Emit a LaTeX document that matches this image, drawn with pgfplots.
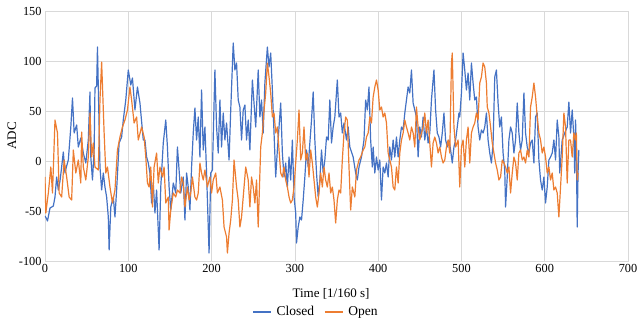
\documentclass[border=0pt]{standalone}
\usepackage{fontspec}
\setmainfont{Liberation Serif}
\usepackage{pgfplots}
\pgfplotsset{compat=1.18}
\definecolor{cblue}{HTML}{4472C4}
\definecolor{corange}{HTML}{ED7D31}
\definecolor{gridc}{HTML}{D9D9D9}
\begin{document}
\begin{tikzpicture}
\begin{axis}[
 scale only axis, width=583pt, height=250pt,
 xmin=0,xmax=700,ymin=-100,ymax=150,
 xtick={0,100,...,700}, ytick={-100,-50,...,150},
 grid=major, grid style={gridc, line width=0.6pt},
 axis line style={gridc, line width=0.6pt},
 major tick length=0pt,
 tick label style={font=\fontsize{12.3}{14}\selectfont},
 /pgf/number format/assume math mode=true,
 xlabel={Time [1/160 s]}, ylabel={ADC},
 label style={font=\fontsize{13}{15}\selectfont},
 xlabel style={at={(axis description cs:0.4906,-0.132)}, anchor=center},
 ylabel style={at={(axis description cs:-0.057,0.5)}, anchor=center},
 legend style={at={(axis description cs:0.465,-0.204)}, anchor=center, draw=none, legend columns=-1,
   font=\fontsize{13.5}{15}\selectfont,
   /tikz/every odd column/.append style={column sep=3pt},
   /tikz/every even column/.append style={column sep=8pt}},
 legend image code/.code={\draw[#1] (0pt,0pt) -- (18pt,0pt);},
 every axis plot/.append style={line width=1.2pt, line join=round},
]
\addplot[cblue] coordinates {
(0,-55)(2,-58)(3,-60)(6,-47)(10,-45)(12,-36)(14,-16)(16,-29)(18,-20)(20,-6)(22,9)(24,-12)(26,-5)(28,1)(31,34)(33,63)(35,28)(38,36)(40,14)(43,23)(46,8)(49,-2)(52,21)(54,69)(55,4)(57,-19)(59,11)(60,73)(62,75)(63,114)(64,74)(66,-6)(68,-29)(70,-12)(72,-26)(74,-36)(76,-56)(77,-89)(79,-46)(82,-36)(84,-56)(86,-29)(89,18)(92,24)(94,41)(97,61)(100,91)(103,76)(105,83)(108,51)(111,74)(114,58)(118,21)(120,21)(122,4)(124,-2)(126,-12)(128,-42)(130,-22)(132,-52)(134,-29)(137,-89)(139,-26)(142,18)(145,41)(147,14)(149,-26)(151,-49)(154,-22)(157,-32)(159,14)(161,-9)(163,-32)(166,-16)(168,-59)(170,-12)(172,-26)(174,-49)(176,-6)(178,28)(180,53)(182,21)(184,44)(186,4)(188,71)(190,11)(192,34)(194,-12)(197,-92)(199,-12)(201,-9)(204,91)(206,34)(208,8)(210,61)(212,14)(214,48)(216,21)(218,38)(221,1)(223,51)(226,118)(228,91)(230,98)(232,61)(234,54)(236,21)(238,51)(240,56)(242,21)(244,41)(246,11)(249,81)(253,34)(256,91)(258,44)(260,61)(262,28)(264,78)(267,114)(269,94)(271,108)(273,71)(275,28)(277,-16)(279,11)(281,34)(283,58)(285,8)(287,-16)(289,-2)(291,-26)(293,4)(295,-19)(297,21)(299,-36)(301,-52)(302,-82)(304,-66)(306,-56)(308,-59)(310,-39)(312,-16)(314,11)(316,-6)(318,18)(320,41)(322,69)(324,21)(326,-12)(328,-36)(330,-19)(332,11)(334,-12)(336,1)(338,24)(340,21)(342,61)(344,18)(346,34)(348,44)(351,81)(353,44)(355,48)(357,28)(359,38)(362,21)(364,34)(366,14)(370,4)(373,-12)(375,-19)(377,-6)(380,4)(383,21)(385,61)(387,51)(389,74)(391,21)(393,-6)(394,14)(396,-12)(398,4)(400,-9)(402,1)(404,-39)(406,-6)(408,-12)(410,-2)(412,-16)(414,14)(416,1)(418,21)(420,4)(422,24)(424,4)(426,21)(428,34)(430,31)(432,48)(434,61)(436,74)(438,68)(440,91)(442,58)(444,51)(446,44)(448,4)(450,34)(452,24)(454,44)(456,21)(458,34)(460,18)(462,28)(464,61)(466,81)(467,91)(469,51)(471,28)(473,24)(475,14)(477,28)(479,48)(481,21)(483,14)(485,21)(487,11)(489,-2)(491,14)(493,21)(495,34)(497,48)(498,44)(500,68)(502,108)(504,91)(506,71)(508,88)(510,61)(512,98)(514,78)(516,61)(518,64)(520,34)(522,21)(524,31)(526,28)(528,34)(530,48)(532,21)(534,8)(536,-2)(538,18)(540,84)(542,91)(544,58)(546,34)(548,44)(550,8)(552,-9)(553,-46)(555,-16)(557,21)(559,34)(561,28)(563,8)(565,21)(567,58)(569,28)(571,11)(573,21)(575,68)(577,28)(579,14)(581,8)(583,18)(585,21)(587,-2)(589,44)(591,48)(593,1)(595,-19)(597,-29)(599,-16)(601,-42)(603,-26)(605,1)(607,4)(609,8)(611,21)(613,1)(615,41)(617,24)(618,-12)(621,21)(624,28)(627,34)(629,59)(631,28)(633,51)(635,24)(636,-12)(637,41)(638,11)(639,-66)(640,-12)(641,11)
};
\addlegendentry{Closed}
\addplot[corange] coordinates {
(0,-16)(1,-52)(4,-32)(7,-6)(9,-32)(12,41)(15,28)(17,-32)(20,-36)(23,1)(26,-16)(29,-36)(32,-39)(34,11)(37,-12)(40,1)(43,-22)(44,29)(46,-6)(49,-19)(52,4)(54,48)(56,4)(58,18)(60,-6)(64,-9)(66,61)(68,99)(71,28)(73,-12)(75,-6)(78,-26)(81,-42)(84,-29)(87,11)(90,24)(93,34)(96,41)(99,51)(102,74)(104,61)(107,38)(110,44)(112,21)(116,34)(119,24)(121,4)(123,-22)(125,-26)(127,-6)(129,-46)(131,-6)(134,8)(136,-22)(138,-6)(141,-16)(143,-6)(145,-42)(148,-36)(149,-69)(151,-49)(154,-32)(157,-36)(159,-29)(162,-32)(164,-16)(166,-22)(168,-46)(171,-26)(173,-39)(175,-32)(177,-16)(180,-36)(182,-39)(184,-32)(186,-2)(188,-12)(190,-19)(192,-9)(195,-26)(198,-16)(200,-32)(202,-19)(205,-12)(207,-32)(210,-26)(213,-39)(215,-66)(218,-76)(219,-92)(221,-72)(223,-59)(225,-39)(227,1)(230,-26)(232,-39)(234,-66)(236,-56)(239,-26)(241,-6)(244,-19)(246,-46)(248,-16)(250,-26)(252,-42)(254,-19)(256,-66)(259,14)(261,28)(263,51)(265,68)(267,98)(269,84)(271,68)(273,44)(275,48)(277,28)(279,34)(281,11)(283,-12)(285,-16)(287,-6)(289,-19)(291,-26)(293,-36)(295,-42)(297,-39)(299,-26)(301,-2)(303,21)(305,51)(307,1)(309,8)(311,34)(313,1)(315,8)(317,-16)(319,11)(321,-2)(323,-19)(325,-36)(327,-46)(329,-32)(331,-12)(333,-26)(335,-6)(337,-19)(339,-26)(341,-12)(343,-32)(345,-26)(347,-39)(349,-62)(351,-39)(353,-29)(355,-32)(357,1)(359,28)(361,44)(363,41)(365,-6)(367,-49)(369,-26)(372,-36)(374,-9)(377,1)(379,4)(382,11)(384,14)(386,24)(388,28)(390,44)(392,38)(394,64)(396,74)(398,81)(400,71)(402,51)(404,54)(406,44)(408,48)(410,38)(412,8)(414,1)(416,-6)(418,-26)(420,-29)(422,-6)(424,-22)(426,8)(428,21)(430,28)(432,41)(434,34)(436,28)(438,21)(440,34)(442,28)(444,14)(446,54)(448,34)(450,21)(452,28)(454,34)(456,48)(458,28)(460,41)(462,18)(464,-6)(466,18)(468,24)(470,18)(472,8)(474,14)(476,4)(478,-2)(480,1)(482,14)(484,21)(486,8)(488,98)(489,108)(491,34)(493,14)(496,21)(498,-26)(500,14)(502,21)(504,-6)(506,21)(508,34)(510,-2)(512,28)(514,34)(516,38)(518,48)(520,41)(522,78)(524,84)(526,98)(528,94)(530,78)(531,54)(533,48)(535,34)(537,18)(539,8)(541,-2)(543,-9)(545,-19)(547,-16)(549,1)(551,-2)(553,-6)(555,-12)(557,-6)(559,-32)(561,-12)(563,4)(565,-2)(567,-19)(569,8)(571,11)(573,1)(575,4)(577,-2)(579,11)(581,4)(583,54)(585,64)(587,78)(589,64)(591,44)(593,28)(595,21)(597,8)(599,14)(601,4)(603,-12)(605,-6)(607,-19)(609,-12)(611,-29)(613,-26)(615,-32)(617,-56)(619,-26)(621,4)(623,48)(625,34)(627,-22)(629,21)(631,21)(633,4)(635,28)(637,21)(638,28)(639,-19)(640,-12)
};
\addlegendentry{Open}
\end{axis}
\pgfresetboundingbox
\path[use as bounding box] ([xshift=-45pt,yshift=-61pt]current axis.south west) rectangle ([xshift=13pt,yshift=11pt]current axis.north east);
\end{tikzpicture}
\end{document}
